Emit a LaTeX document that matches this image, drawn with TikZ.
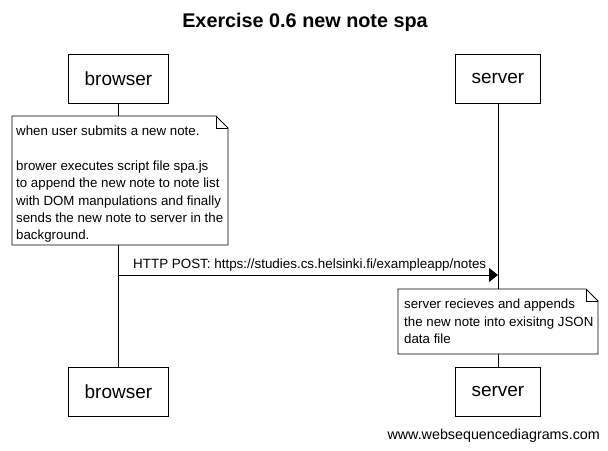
\documentclass[tikz,border=0pt]{standalone}
\usepackage{fontspec}
\setmainfont{Liberation Sans}
\usetikzlibrary{arrows.meta}
\begin{document}
\begin{tikzpicture}[x=1pt,y=-1pt,
  actor/.style={draw,line width=0.8pt,minimum height=49pt,inner sep=0pt,font=\fontsize{19}{22}\selectfont,anchor=north west},
  life/.style={line width=0.8pt},
  notetext/.style={font=\fontsize{13.3}{17.3}\selectfont,align=left,anchor=north west,inner sep=0pt},
  msg/.style={line width=0.8pt,-{Triangle[length=9pt,width=14pt]}}]
\useasboundingbox (0,0) rectangle (608,450);
\node[font=\bfseries\fontsize{19.8}{23}\selectfont] (title) at (305,22) {Exercise 0.6 new note spa};
% actors
\node[actor,minimum width=100pt] (bt) at (68,54) {browser};
\node[actor,minimum width=85pt] (st) at (455,54) {server};
\node[actor,minimum width=100pt] (bb) at (68,367) {browser};
\node[actor,minimum width=85pt] (sb) at (455,367) {server};
\draw[life] (bt.south) -- (bb.north);
\draw[life] (st.south) -- (sb.north);
% note 1
\fill[white] (12,116) -- (216,116) -- (228,128) -- (228,245) -- (12,245) -- cycle;
\draw[line width=0.8pt] (12,116) -- (216,116) -- (228,128) -- (228,245) -- (12,245) -- cycle;
\draw[line width=0.8pt] (216,116) -- (216,128) -- (228,128);
\node[notetext] (n1) at (16,126) {when user submits a new note.\\[17.3pt]brower executes script file spa.js\\to append the new note to note list\\with DOM manpulations and finally\\sends the new note to server in the\\background.};
% message
\coordinate (m1) at (118,275);
\coordinate (m2) at (498,275);
\draw[msg] (m1) -- (m2);
\node[font=\fontsize{13.4}{15}\selectfont,anchor=south west,inner sep=0pt] (lbl) at (133,271) {HTTP POST: https://studies.cs.helsinki.fi/exampleapp/notes};
% note 2
\fill[white] (398,289) -- (586,289) -- (598,301) -- (598,354) -- (398,354) -- cycle;
\draw[line width=0.8pt] (398,289) -- (586,289) -- (598,301) -- (598,354) -- (398,354) -- cycle;
\draw[line width=0.8pt] (586,289) -- (586,301) -- (598,301);
\node[notetext] (n2) at (404,299) {server recieves and appends\\the new note into exisitng JSON\\data file};
\node[font=\fontsize{14.3}{16}\selectfont,anchor=east,inner sep=0pt] (foot) at (600,436) {www.websequencediagrams.com};
\end{tikzpicture}
\end{document}
